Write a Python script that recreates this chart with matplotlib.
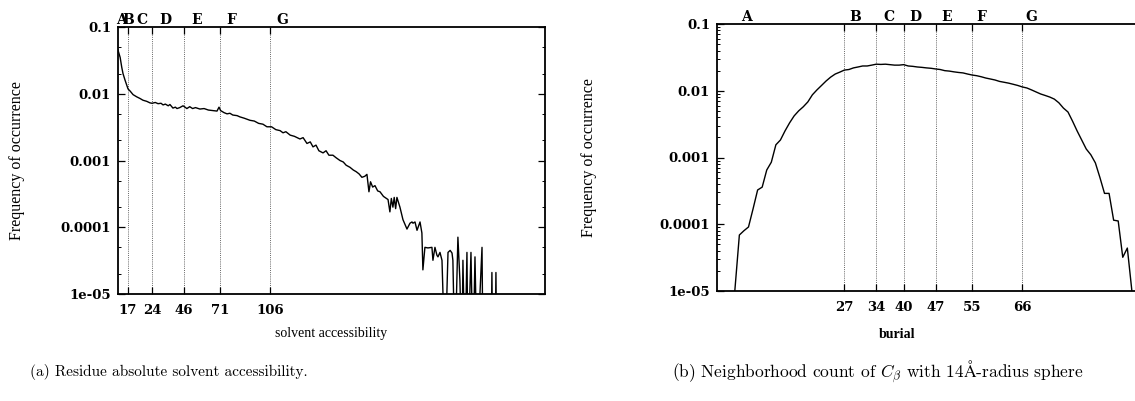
import numpy as np
import matplotlib
matplotlib.use("Agg")
import matplotlib.pyplot as plt
from matplotlib.ticker import FixedLocator, NullFormatter, LogLocator
import matplotlib.transforms as mtransforms

plt.rcParams['mathtext.fontset'] = 'cm'

# (a) solvent accessibility: frequency of occurrence
solv_x = [0, 1.5, 2.6, 3.5, 4.9, 7, 8.4, 10.5, 13, 15.3, 17.4, 20, 22.3, 23.7, 26, 27.9,
          30, 31.4, 33, 35, 36.2, 38.3, 40, 41.1, 43, 45.3, 46.7, 48, 50, 52, 54, 57.1,
          60, 63, 66, 69, 70.4, 71.5, 74, 76, 78, 80, 83, 85, 88, 92, 95, 98, 101, 103.8,
          107, 110, 113, 115, 117, 120, 123, 126.8, 129, 131.7, 134, 135.9, 138, 140,
          142.9, 145, 147, 149.8, 152, 154.7, 157, 159, 161.7, 164, 166, 168, 170, 172,
          173.5, 174.9, 176, 177.5, 179.1, 181, 182.6, 185, 188.2, 189.5, 190.5, 191.6,
          192.5, 193.5, 194.4, 196.5, 198.6, 200, 201.4, 203.5, 204.9, 205.6, 207, 208.4,
          210.5, 211.8, 212.5, 213.9, 216, 218.8, 219.5, 220.9, 222.3, 223, 224.4, 225.8,
          227.9, 230, 231.5, 232.8, 233.4, 234.8, 236.9, 238.3, 239.7, 240.4, 241.8,
          243.2, 243.9, 246, 247.4, 248.8, 250.2, 253.7, 254.4, 260, 260.6, 261.2, 262.8,
          263.4, 264]
solv_freq = [0.045, 0.035, 0.025, 0.020, 0.016, 0.0118, 0.0110, 0.0097, 0.0090, 0.0085,
             0.0080, 0.0077, 0.0073, 0.0072, 0.0074, 0.0071, 0.0072, 0.0068, 0.0070, 0.0066,
             0.0069, 0.0061, 0.0063, 0.0060, 0.0062, 0.0066, 0.0063, 0.0060, 0.0064, 0.0060,
             0.0062, 0.0059, 0.0060, 0.0057, 0.0056, 0.0055, 0.0063, 0.0056, 0.0052, 0.0050,
             0.0051, 0.0048, 0.0047, 0.0045, 0.0043, 0.0040, 0.0039, 0.0036, 0.0035, 0.0032,
             0.0032, 0.0029, 0.0028, 0.0026, 0.0027, 0.0024, 0.0023, 0.0021, 0.0022, 0.0018,
             0.0019, 0.0016, 0.0017, 0.0014, 0.0013, 0.0014, 0.0012, 0.0012, 0.0011, 0.0010,
             0.00095, 0.00085, 0.00079, 0.00072, 0.00068, 0.00063, 0.00056, 0.00058, 0.00062,
             0.00034, 0.00048, 0.00040, 0.00042, 0.00035, 0.00034, 0.00029, 0.00026, 0.00017,
             0.00027, 0.00020, 0.00028, 0.00019, 0.00028, 0.00020, 0.00013, 0.00011, 9.4e-5,
             1.15e-4, 1.2e-4, 1.15e-4, 1.2e-4, 9e-5, 1.2e-4, 8.2e-5, 2.3e-5, 5e-5, 4.9e-5,
             5e-5, 3.2e-5, 5e-5, 3.8e-5, 3.6e-5, 4.2e-5, 3.2e-5, 1e-6, 4.2e-5, 4.5e-5, 4.1e-5,
             3.2e-5, 1e-6, 7.1e-5, 1.6e-5, 1e-6, 3.2e-5, 1e-6, 4.2e-5, 1e-6, 4.2e-5, 1e-6,
             3.6e-5, 1e-6, 5e-5, 1e-6, 1e-6, 2.1e-5, 1e-6, 1e-6, 2.1e-5, 1e-6]
solv_ticks = [7, 24, 46, 71, 106]
solv_ticklabels = ['17', '24', '46', '71', '106']
solv_letters = ['A', 'B', 'C', 'D', 'E', 'F', 'G']
solv_letter_x = [2.2, 7.2, 16.4, 33, 54.9, 79.2, 114.2]

# (b) burial: neighbourhood count of C-beta
burial_x = np.arange(3, 91)
burial_freq = [1e-5, 6.9e-5, 8.0e-5, 9.1e-5, 1.7e-4, 3.26e-4, 3.6e-4, 6.5e-4, 8.5e-4, 1.55e-3,
               1.83e-3, 2.5e-3, 3.3e-3, 4.2e-3, 5.0e-3, 5.75e-3, 6.8e-3, 8.7e-3, 1.03e-2,
               1.2e-2, 1.4e-2, 1.6e-2, 1.78e-2, 1.9e-2, 2.04e-2, 2.08e-2, 2.2e-2, 2.27e-2,
               2.35e-2, 2.35e-2, 2.42e-2, 2.5e-2, 2.48e-2, 2.5e-2, 2.46e-2, 2.42e-2, 2.42e-2,
               2.46e-2, 2.35e-2, 2.32e-2, 2.27e-2, 2.24e-2, 2.2e-2, 2.17e-2, 2.12e-2, 2.08e-2,
               2.0e-2, 1.97e-2, 1.92e-2, 1.88e-2, 1.85e-2, 1.78e-2, 1.72e-2, 1.68e-2, 1.62e-2,
               1.55e-2, 1.5e-2, 1.45e-2, 1.38e-2, 1.34e-2, 1.3e-2, 1.25e-2, 1.2e-2, 1.14e-2,
               1.1e-2, 1.03e-2, 9.6e-3, 8.95e-3, 8.5e-3, 8.05e-3, 7.5e-3, 6.6e-3, 5.5e-3,
               4.8e-3, 3.5e-3, 2.5e-3, 1.83e-3, 1.34e-3, 1.1e-3, 8.3e-4, 5.0e-4, 2.9e-4,
               2.9e-4, 1.15e-4, 1.12e-4, 3.2e-5, 4.4e-5, 1e-5]
burial_ticks = [27, 34, 40, 47, 55, 66]
burial_letters = ['A', 'B', 'C', 'D', 'E', 'F', 'G']
burial_letter_x = [5.6, 29.4, 36.7, 42.6, 49.3, 57.1, 68.0]

yticks = [1e-5, 1e-4, 1e-3, 1e-2, 1e-1]
ytick_labels = ['1e-05', '0.0001', '0.001', '0.01', '0.1']

tick_font = dict(family='DejaVu Serif', weight='bold', size=9.5)
label_font = dict(family='Liberation Serif', size=11.5)
caption_font = dict(family=['cmr10', 'DejaVu Serif'], size=11)


def style_axis(ax, xlim, minor_subs, right=True):
    ax.set_yscale('log')
    ax.set_ylim(1e-5, 0.1)
    ax.set_xlim(*xlim)
    ax.yaxis.set_major_locator(FixedLocator(yticks))
    ax.set_yticklabels(ytick_labels, **tick_font)
    ax.yaxis.set_minor_locator(LogLocator(base=10, subs=minor_subs))
    ax.yaxis.set_minor_formatter(NullFormatter())
    ax.tick_params(axis='both', which='major', direction='in', length=5, width=0.9,
                   right=right, top=True)
    ax.tick_params(axis='y', which='major', pad=5)
    ax.tick_params(axis='x', which='major', pad=7)
    ax.tick_params(axis='y', which='minor', direction='in', length=2.5, width=0.7, right=right)
    for s in ax.spines.values():
        s.set_linewidth(1.3)
    if not right:
        ax.spines['right'].set_visible(False)


def add_markers(ax, lines, letters, letter_x):
    for x in lines:
        ax.axvline(x, color='0.4', ls=(0, (1, 1.2)), lw=0.7, zorder=1)
    trans = mtransforms.blended_transform_factory(ax.transData, ax.transAxes)
    for name, x in zip(letters, letter_x):
        ax.text(x, 1.0, name, transform=trans, ha='center', va='bottom',
                clip_on=False, **dict(tick_font, size=10))


fig = plt.figure(figsize=(11.35, 4.01), dpi=100)

# (a)
ax1 = fig.add_axes([118 / 1135, 1 - 294 / 401, 427 / 1135, 267 / 401])
ax1.plot(solv_x, solv_freq, color='black', lw=1.0, zorder=3)
style_axis(ax1, (0, 297.6), (2.0, 5.0))
ax1.set_xticks(solv_ticks)
ax1.set_xticklabels(solv_ticklabels, **tick_font)
add_markers(ax1, solv_ticks, solv_letters, solv_letter_x)
ax1.set_xlabel('solvent accessibility', **dict(label_font, size=10))
ax1.xaxis.set_label_coords(0.5, -(327 - 294) / 267)
ax1.set_ylabel('Frequency of occurrence', **label_font)
ax1.yaxis.set_label_coords((25 - 118) / 427, 0.5)

# (b)
ax2 = fig.add_axes([717 / 1135, 1 - 291 / 401, 419 / 1135, 267 / 401])
ax2.plot(burial_x, burial_freq, color='black', lw=1.0, zorder=3)
style_axis(ax2, (-0.9, 90.9), tuple(np.arange(2, 10)), right=False)
ax2.set_xticks(burial_ticks)
ax2.set_xticklabels([str(t) for t in burial_ticks], **tick_font)
add_markers(ax2, burial_ticks, burial_letters, burial_letter_x)
ax2.set_xlabel('burial', **dict(label_font, size=10, weight='bold'))
ax2.xaxis.set_label_coords((897 - 717) / 419, -(328 - 291) / 267)
ax2.set_ylabel('Frequency of occurrence', **label_font)
ax2.yaxis.set_label_coords((597 - 717) / 419, 0.5)

fig.text(30 / 1135, 1 - 372 / 401, '(a) Residue absolute solvent accessibility.',
         va='center', ha='left', **caption_font)
fig.text(672 / 1135, 1 - 372 / 401,
         r'(b) Neighborhood count of $C_\beta$ with 14$\mathrm{\AA}$-radius sphere',
         va='center', ha='left', **dict(caption_font, size=12.5))

fig.savefig('out.png', dpi=100)
